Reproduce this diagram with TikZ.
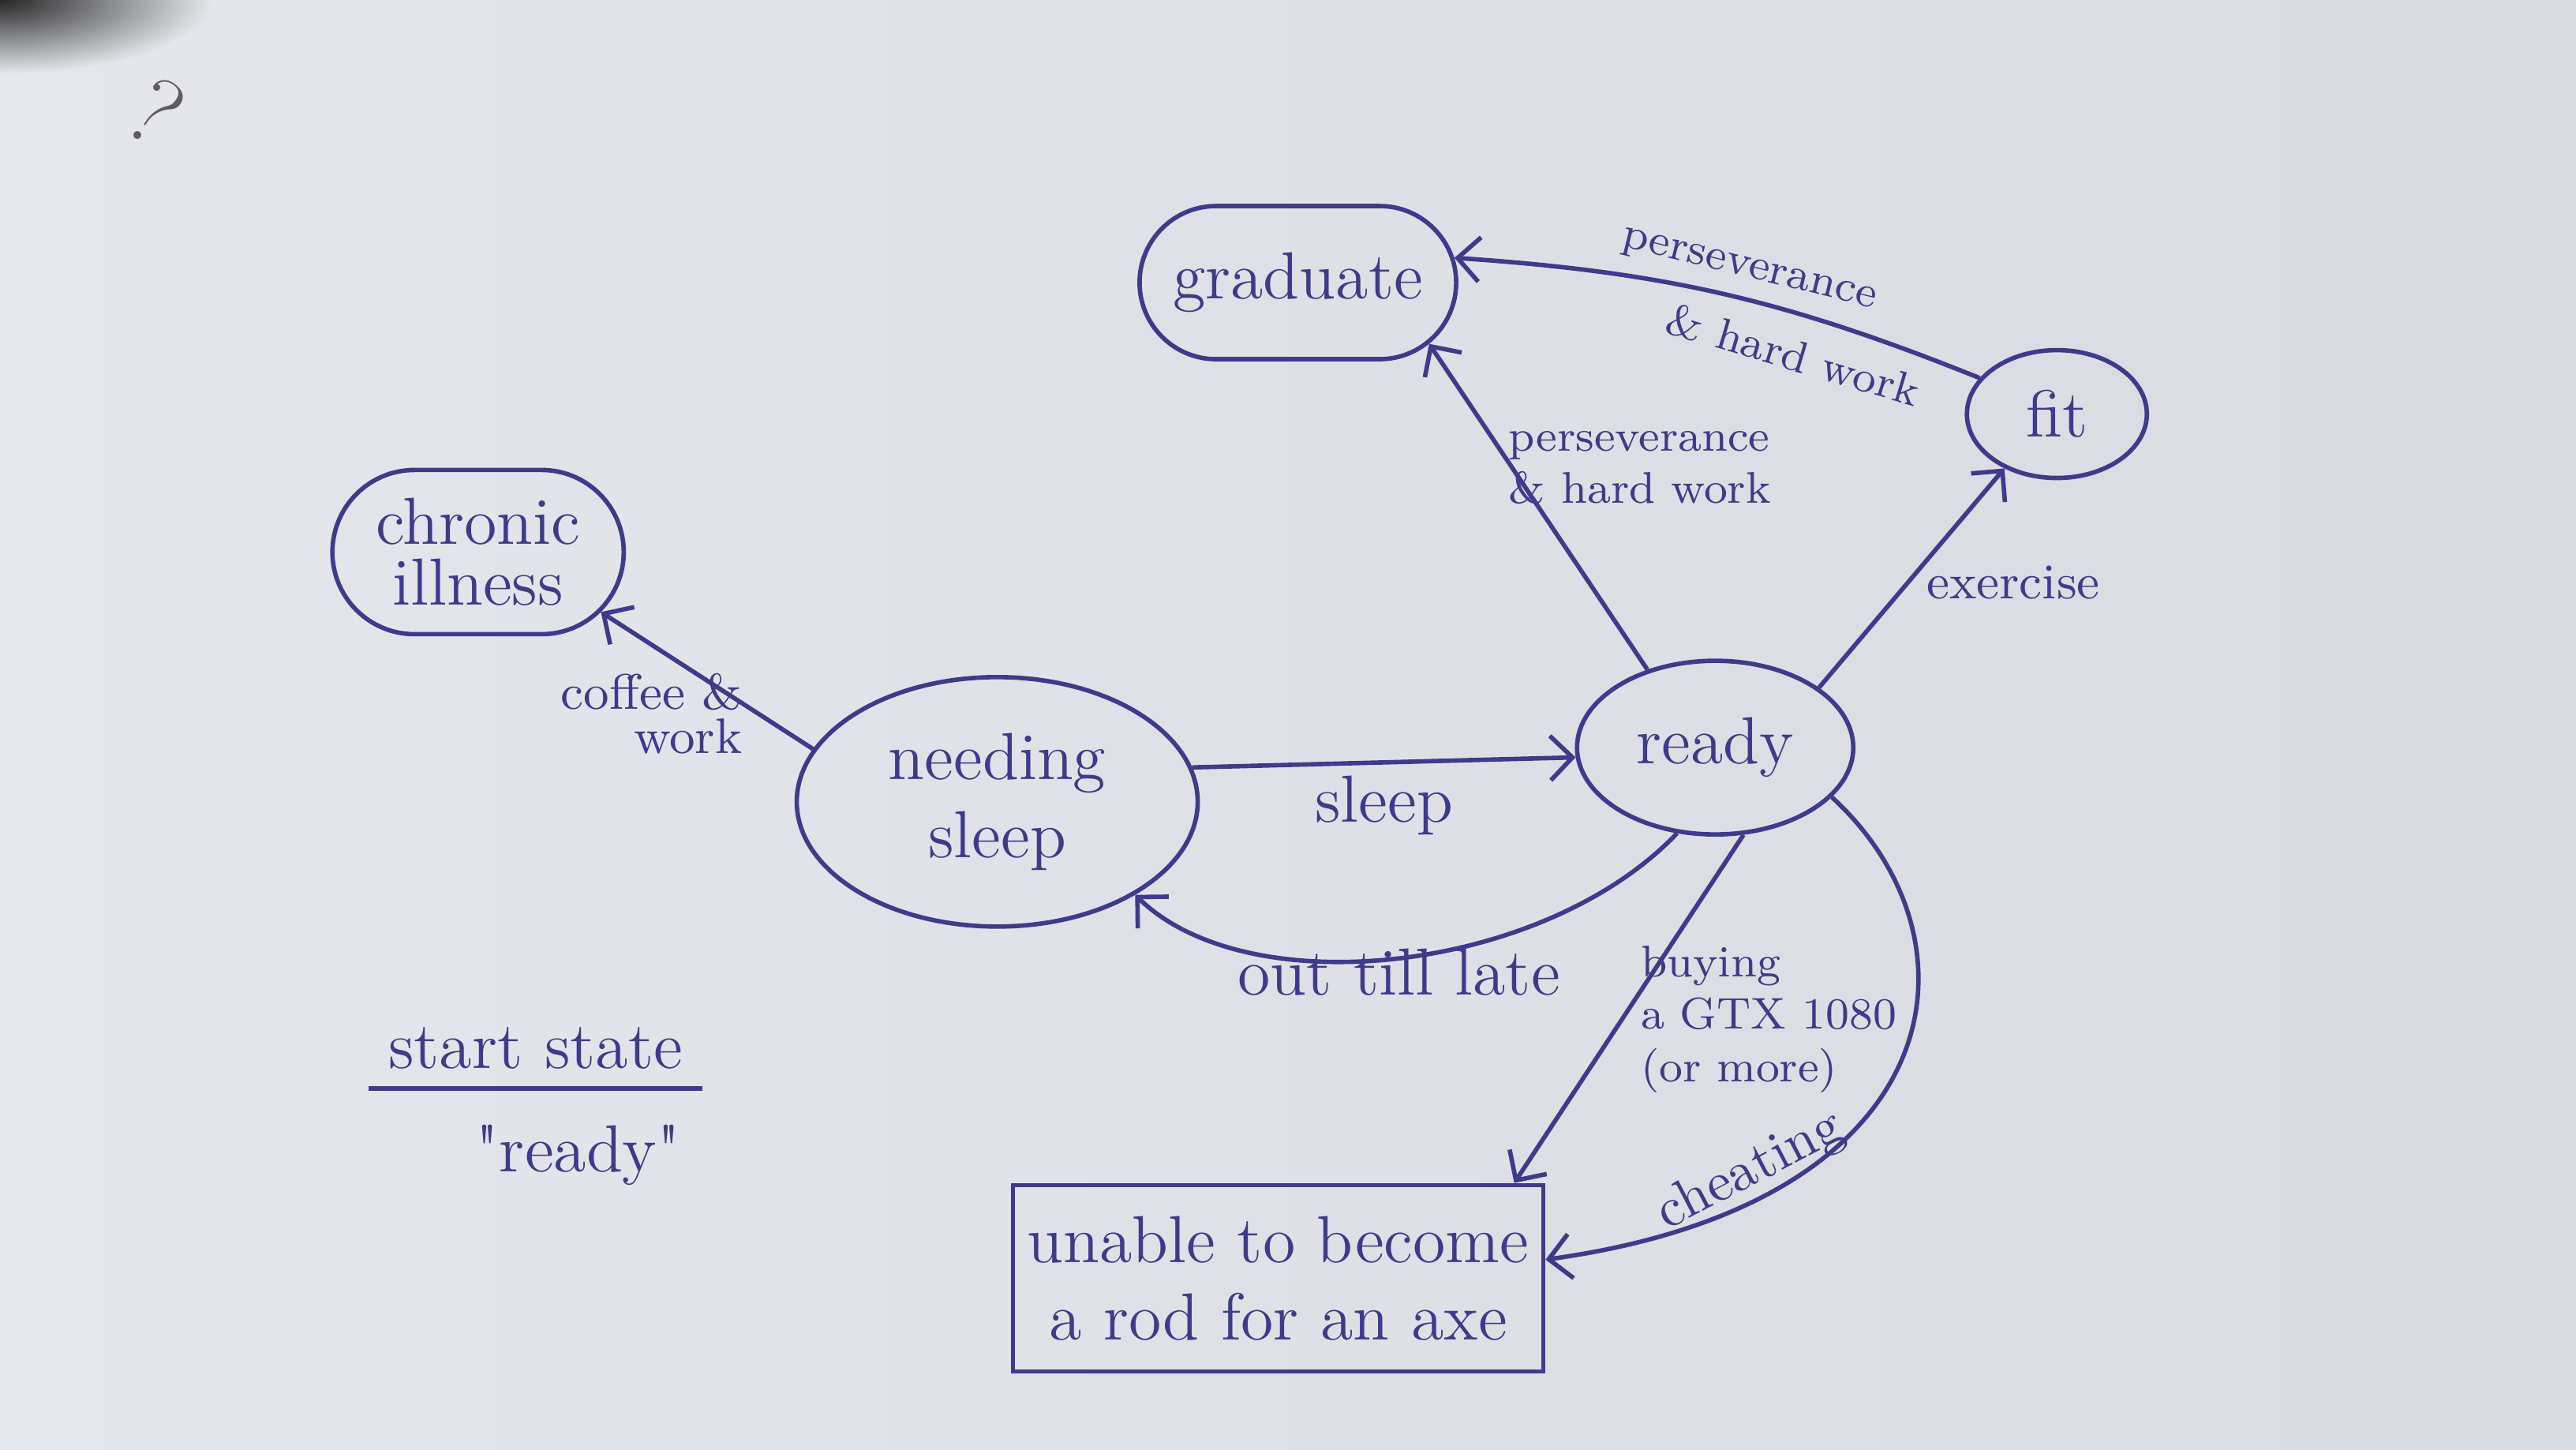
\documentclass[tikz,border=0pt]{standalone}
\usetikzlibrary{positioning, arrows.meta, shapes.geometric, shapes.misc}

\definecolor{ink}{HTML}{3E3B8C}
\definecolor{paper}{HTML}{E5E7EC}
\definecolor{paperdark}{HTML}{D8DADF}
\definecolor{pencil}{HTML}{5C5C62}

\tikzset{
  state/.style={ellipse, draw=ink, thick, text=ink, font=\large, align=center, inner sep=1pt},
  blob/.style={rounded rectangle, draw=ink, thick, text=ink, font=\large, align=center},
  sink/.style={rectangle, draw=ink, thick, text=ink, font=\large, align=center, inner xsep=2pt},
  trans/.style={draw=ink, thick, -{Straight Barb[length=4pt,width=8pt]}},
  lbl/.style={text=ink, font=\small, inner sep=2pt},
}

\begin{document}
\begin{tikzpicture}[x=0.10408mm, y=0.10408mm]
\useasboundingbox (0,0) rectangle (1568,882);
% paper
\shade[left color=paper, right color=paperdark] (0,0) rectangle (1568,882);
\begin{scope}
\clip (0,0) rectangle (1568,882);
\shade[inner color=black!85, outer color=paper] (0,882) ellipse (130 and 45);
\end{scope}
\node[text=pencil, font=\LARGE, rotate=-35] (query) at (95,814) {?};

% states
\node[blob, minimum width=2.24cm, minimum height=0.97cm] (graduate) at (790,710) {graduate};
\node[state, minimum width=1.14cm, minimum height=0.81cm] (fit) at (1252,630) {fit};
\node[blob, minimum width=2.08cm, minimum height=1.04cm] (chronic) at (291,546) {chronic\\[-3pt]illness};
\node[state, minimum width=2.54cm, minimum height=1.58cm] (needing) at (607,394) {needing\\sleep};
\node[state, minimum width=1.75cm, minimum height=1.10cm] (ready) at (1044,427) {ready};
\node[sink, minimum width=3.36cm, minimum height=1.18cm] (unable) at (778,104) {unable to become\\a rod for an axe};

% transitions
\draw[trans] (needing.10) -- node[lbl, font=\large, below] {sleep} (ready.184);
\draw[trans] (ready.-114) .. controls (940,290) and (760,270) .. node[lbl, font=\large, below=-4pt] {out till late} (needing.-34);
\draw[trans] (needing.164) -- node[lbl, pos=0.42, below left=-2mm and -2mm, align=right] {coffee \&\\[-3pt]work} (chronic.-26);
\draw[trans] (ready.131) -- node[lbl, font=\footnotesize, pos=0.62, right=-3pt, align=left] {perseverance\\\& hard work} (graduate.-25);
\draw[trans] (ready.30) -- node[lbl, pos=0.48, right=1pt] {exercise} (fit.-134);
\draw[trans] (fit.155) to[bend right=9]
  node[lbl, font=\footnotesize, pos=0.46, sloped, above=0pt] {perseverance}
  node[lbl, font=\footnotesize, pos=0.33, sloped, below=2pt] {\& hard work} (graduate.9);
\draw[trans] (ready.-72) -- node[lbl, font=\footnotesize, pos=0.53, right=1pt, align=left] {buying\\a GTX 1080\\(or more)} (unable.22);
\draw[trans] (ready.-23) .. controls (1210,310) and (1190,150) .. node[lbl, font=\normalsize, pos=0.78, sloped, above=-2pt] {cheating} (unable.4);

% start state note
\node[text=ink, font=\large] (start) at (326,244) {start state};
\draw[ink, thick] (start.south west) -- (start.south east);
\node[text=ink, font=\large] (startname) at (352,179) {\textquotedbl ready\textquotedbl};
\end{tikzpicture}
\end{document}
